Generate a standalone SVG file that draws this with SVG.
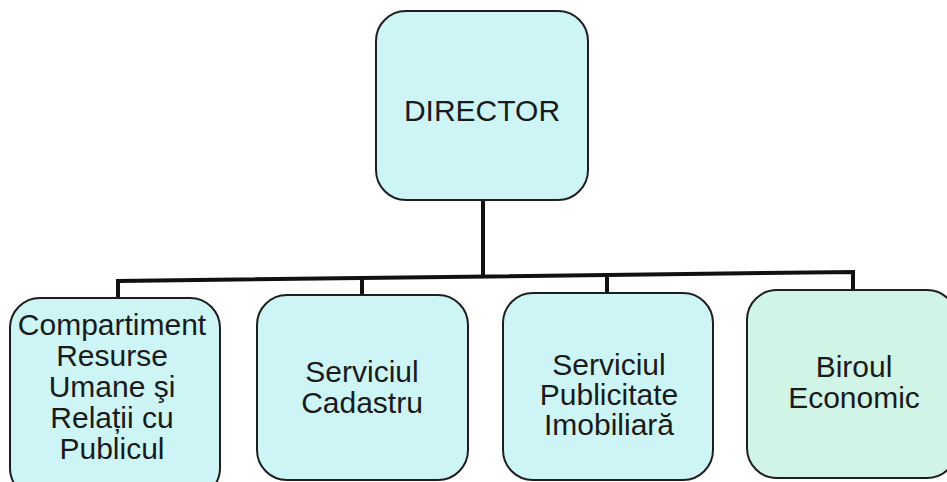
<svg xmlns="http://www.w3.org/2000/svg" width="947" height="482" viewBox="0 0 947 482">
<style>
.box{fill:#cdf5f6;stroke:#1e1e1e;stroke-width:2}
.green{fill:#d0f4e6}
.lbl{font-family:"Liberation Sans",Arial,sans-serif;font-size:30px;fill:#1a1a1a;text-anchor:middle}
.con{fill:none;stroke:#111;stroke-width:4}
</style>
<rect width="947" height="482" fill="#ffffff"/>
<g id="connectors">
<path class="con" d="M483 200 V276.5"/>
<path class="con" d="M118 298 V281 L853 272 V290"/>
<path class="con" d="M362 295 V278"/>
<path class="con" d="M607 293 V275"/>
</g>
<g id="director">
<rect class="box" x="376" y="11" width="212" height="189" rx="30"/>
<text class="lbl" x="482" y="121">DIRECTOR</text>
</g>
<g id="resurse-umane">
<rect class="box" x="10" y="298" width="210" height="200" rx="30"/>
<text class="lbl" x="112" y="335">Compartiment</text>
<text class="lbl" x="112" y="366">Resurse</text>
<text class="lbl" x="112" y="397">Umane şi</text>
<text class="lbl" x="112" y="428">Relații cu</text>
<text class="lbl" x="112" y="459">Publicul</text>
</g>
<g id="cadastru">
<rect class="box" x="257" y="295" width="211" height="185" rx="30"/>
<text class="lbl" x="362" y="382">Serviciul</text>
<text class="lbl" x="362" y="413">Cadastru</text>
</g>
<g id="publicitate">
<rect class="box" x="503" y="293" width="210" height="187" rx="30"/>
<text class="lbl" x="609" y="375">Serviciul</text>
<text class="lbl" x="609" y="405">Publicitate</text>
<text class="lbl" x="609" y="435">Imobiliară</text>
</g>
<g id="biroul-economic">
<rect class="box green" x="747" y="290" width="210" height="188" rx="30"/>
<text class="lbl" x="854" y="377">Biroul</text>
<text class="lbl" x="854" y="408">Economic</text>
</g>
</svg>
